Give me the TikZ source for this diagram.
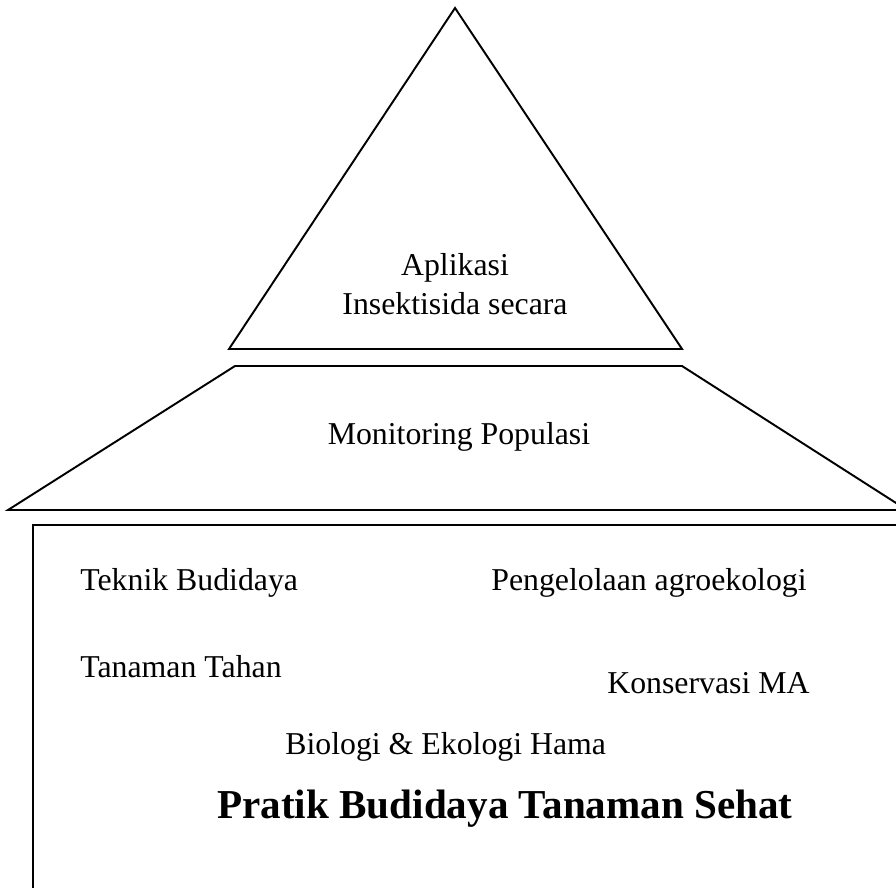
\documentclass[tikz,border=0pt]{standalone}
\usepackage{fontspec}
\setmainfont{Liberation Serif}
\usetikzlibrary{positioning}

\tikzset{
  txt/.style={inner sep=0pt,font=\fontsize{18.1}{22.5}\selectfont},
  big/.style={inner sep=0pt,font=\fontsize{23.4}{28}\selectfont\bfseries},
  layer/.style={draw,line width=1.1pt,line join=miter}
}

\begin{document}
\begin{tikzpicture}[x=0.02cm,y=-0.02cm]
    \useasboundingbox (0,0) rectangle (896,888);

    % pyramid top
    \coordinate (apex) at (455,8);
    \coordinate (tl) at (229,349);
    \coordinate (tr) at (682,349);
    \draw[layer] (apex) -- (tr) -- (tl) -- cycle;
    \node[txt,align=center] (aplikasi) at (455,284) {Aplikasi\\Insektisida secara};

    % middle layer
    \coordinate (ml) at (235,366);
    \coordinate (mr) at (682,366);
    \coordinate (bl) at (8,510);
    \coordinate (br) at (907,510);
    \draw[layer] (ml) -- (mr) -- (br) -- (bl) -- cycle;
    \node[txt] (monitoring) at (459,437) {Monitoring Populasi};

    % base
    \draw[layer] (33,525) rectangle (910,900);
    \node[txt,anchor=west] (teknik) at (80,583) {Teknik Budidaya};
    \node[txt,anchor=west] (agro) at (491,583) {Pengelolaan agroekologi};
    \node[txt,anchor=west] (tahan) at (80,667) {Tanaman Tahan};
    \node[txt,anchor=west] (konservasi) at (607,683) {Konservasi MA};
    \node[txt,anchor=west] (biologi) at (285,747) {Biologi \& Ekologi Hama};
    \node[big] (pratik) at (505,809) {Pratik Budidaya Tanaman Sehat};
\end{tikzpicture}
\end{document}
